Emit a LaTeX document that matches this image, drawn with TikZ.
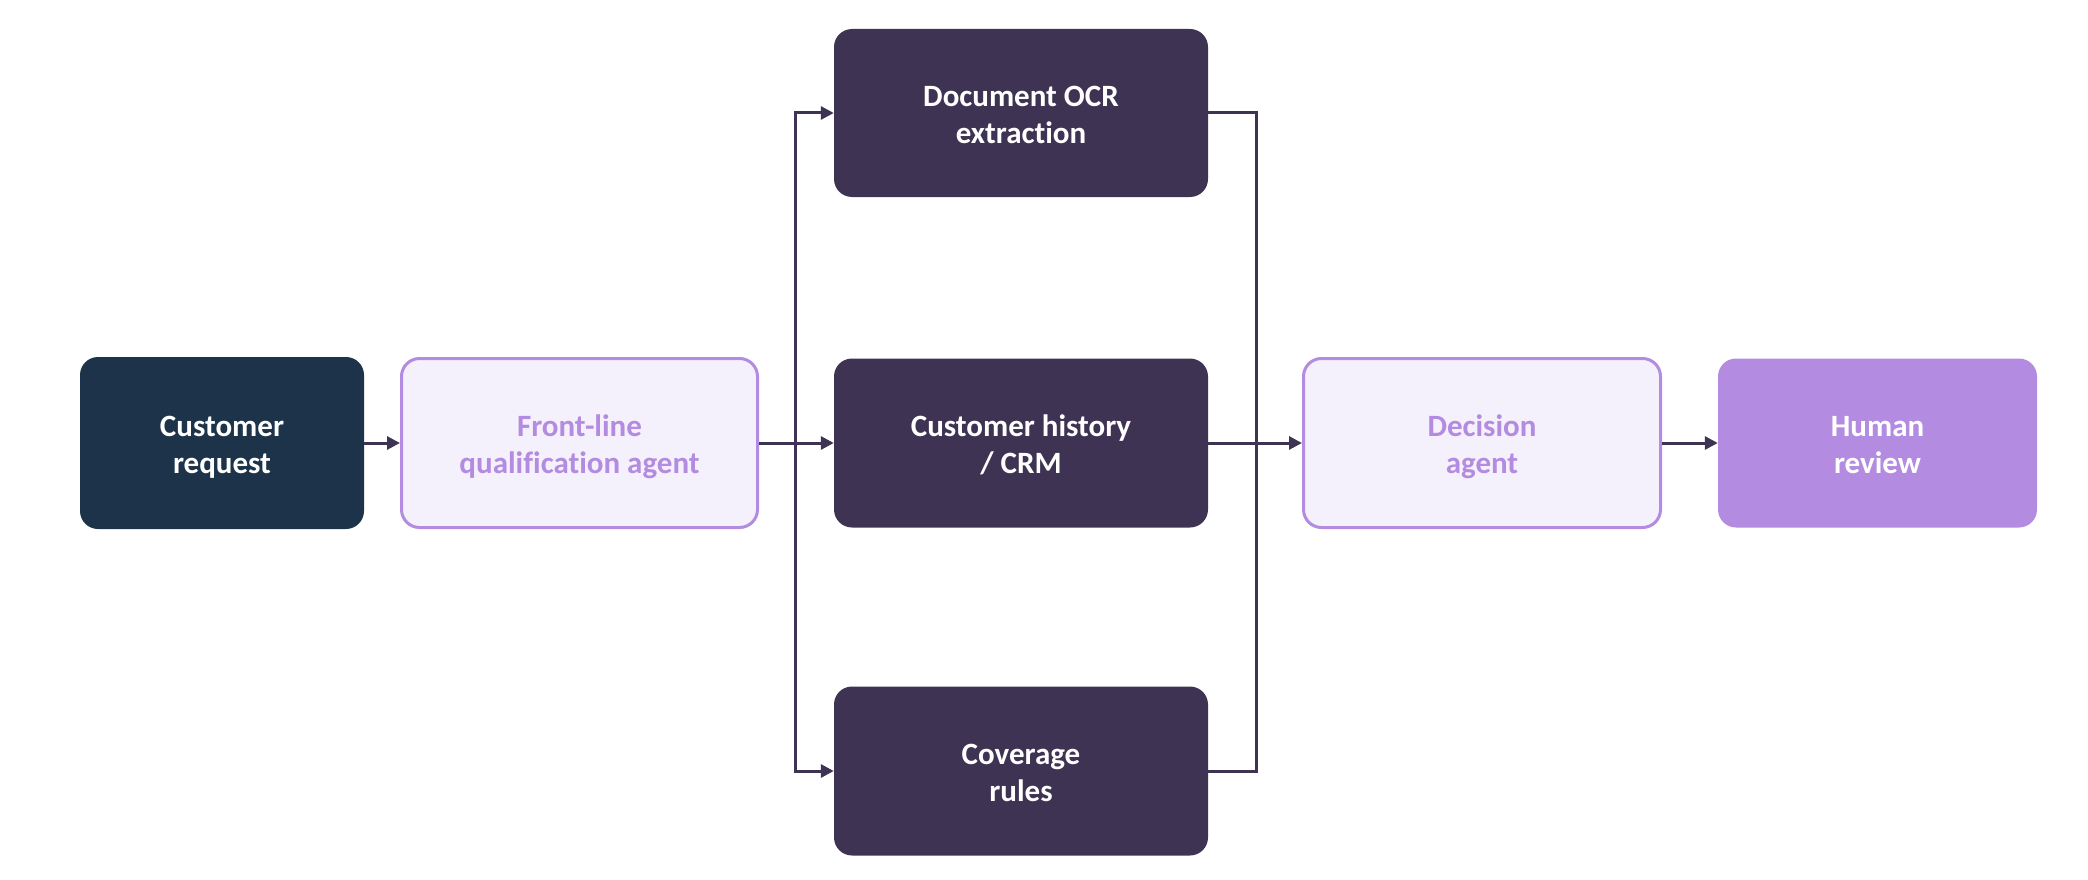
\documentclass[tikz,border=0pt]{standalone}
\usepackage{fontspec}
\setmainfont[Ligatures={NoCommon}]{Carlito}
\usetikzlibrary{arrows.meta}
\definecolor{navy}{HTML}{1C3349}
\definecolor{plum}{HTML}{3F3354}
\definecolor{lav}{HTML}{B38BE0}
\definecolor{lavlight}{HTML}{F5F1FC}
\newcommand{\twolines}[2]{\raisebox{0pt}[\dimexpr\height+10pt\relax][\depth]{\begin{tabular}{@{}c@{}}#1\\[1pt]#2\end{tabular}}}
\tikzset{
  box/.style={rectangle, rounded corners=18pt, align=center, inner sep=0pt,
    font=\fontsize{31}{36}\selectfont\bfseries},
  darkbox/.style={box, fill=plum, text=white},
  navybox/.style={box, fill=navy, text=white},
  agentbox/.style={box, fill=lavlight, draw=lav, line width=3pt, text=lav},
  humanbox/.style={box, fill=lav, text=white},
  conn/.style={draw=plum, line width=3pt},
  arr/.style={conn, -{Triangle[length=13pt,width=13pt]}},
}
\begin{document}
\begin{tikzpicture}[x=1pt,y=-1pt]
\useasboundingbox (0,0) rectangle (2088,880);
\node[navybox, minimum width=284pt, minimum height=172pt] (req) at (222,443) {\twolines{Customer}{request}};
\node[agentbox, minimum width=356pt, minimum height=169pt] (fl) at (579.5,443) {\twolines{Front-line}{qualification agent}};
\node[darkbox, minimum width=374pt, minimum height=168pt] (doc) at (1021,113) {\twolines{Document OCR}{extraction}};
\node[darkbox, minimum width=374pt, minimum height=169pt] (ch) at (1021,443) {\twolines{Customer history}{/ CRM}};
\node[darkbox, minimum width=374pt, minimum height=169pt] (cov) at (1021,771) {\twolines{Coverage}{rules}};
\node[agentbox, minimum width=357pt, minimum height=169pt] (dec) at (1482,443) {\twolines{Decision}{agent}};
\node[humanbox, minimum width=319pt, minimum height=169pt] (hum) at (1877.5,443) {\twolines{Human}{review}};
\coordinate (bl) at (795,443);
\coordinate (br) at (1256,443);
\draw[arr] (req.east) -- (fl.west);
\draw[arr] (fl.east) -- (ch.west);
\draw[arr] (bl) |- (doc.west);
\draw[arr] (bl) |- (cov.west);
\draw[conn] (doc.east) -| (br) |- (cov.east);
\draw[arr] (ch.east) -- (dec.west);
\draw[arr] (dec.east) -- (hum.west);
\end{tikzpicture}
\end{document}
